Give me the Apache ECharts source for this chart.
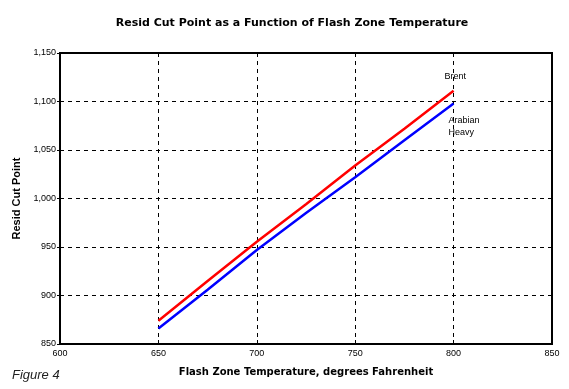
<!DOCTYPE html>
<html><head><meta charset="utf-8">
<script src="https://cdn.jsdelivr.net/npm/echarts@6/dist/echarts.min.js"></script>
<style>html,body{margin:0;padding:0;background:#fff}#c{width:569px;height:389px}</style>
</head><body><div id="c"></div>
<script>
var temps = [650, 675, 700, 725, 750, 775, 800];
var brent = [874, 915, 955.5, 994, 1034, 1072, 1111];
var arabianHeavy = [866, 906, 947, 985, 1022, 1060, 1098];
var seriesNames = ['Brent', 'Arabian Heavy'];
var titleText = 'Resid Cut Point as a Function of Flash Zone Temperature';
var xName = 'Flash Zone Temperature, degrees Fahrenheit';
var yName = 'Resid Cut Point';
var figLabel = 'Figure 4';

function pairs(xs, ys){ return xs.map(function(x,i){return [x, ys[i]];}); }
var chart = echarts.init(document.getElementById('c'));
var font = 'Liberation Sans, Arial, sans-serif';
var wide = 'DejaVu Sans, Verdana, sans-serif';
chart.setOption({
  animation: false,
  backgroundColor: '#fff',
  title: {text: titleText, left: 287, textAlign: 'center', top: 13,
    textStyle: {fontFamily: wide, fontSize: 11, fontWeight: 'bold', color: '#000'}},
  graphic: [{type: 'text', left: 12, top: 369,
    style: {text: figLabel, fontFamily: font, fontSize: 13, fontStyle: 'italic', fill: '#222'}}],
  grid: {left: 60, right: 17, top: 53, bottom: 45, show: true, borderColor: '#000', borderWidth: 2},
  xAxis: {type: 'value', min: 600, max: 850, interval: 50,
    name: xName, nameLocation: 'middle', nameGap: 23,
    nameTextStyle: {fontFamily: wide, fontSize: 10, fontWeight: 'bold', color: '#000'},
    axisLine: {lineStyle: {color: '#000', width: 2}},
    axisTick: {show: true, inside: true, length: 4, lineStyle: {color: '#000'}},
    axisLabel: {fontFamily: font, fontSize: 9, color: '#000', margin: 5},
    splitLine: {show: true, lineStyle: {color: '#000', type: [4, 4], width: 1}}},
  yAxis: {type: 'value', min: 850, max: 1150, interval: 50,
    name: yName, nameLocation: 'middle', nameGap: 31, nameRotate: 90,
    nameTextStyle: {fontFamily: font, fontSize: 11, fontWeight: 'bold', color: '#000'},
    axisLine: {lineStyle: {color: '#000', width: 2}},
    axisTick: {show: true, length: 3, lineStyle: {color: '#000'}},
    axisLabel: {fontFamily: font, fontSize: 9, color: '#000', margin: 4,
      formatter: function(v){ return v.toLocaleString('en-US'); }},
    splitLine: {show: true, lineStyle: {color: '#000', type: [4, 4], width: 1}}},
  series: [
    {name: seriesNames[0], type: 'line', data: pairs(temps, brent), symbol: 'none',
      lineStyle: {color: '#ff0000', width: 2.5}, itemStyle: {color: '#ff0000'},
      endLabel: {show: true, formatter: seriesNames[0], offset: [-17, -14],
        fontFamily: font, fontSize: 9, color: '#000'}},
    {name: seriesNames[1], type: 'line', data: pairs(temps, arabianHeavy), symbol: 'none',
      lineStyle: {color: '#0000ff', width: 2.5}, itemStyle: {color: '#0000ff'},
      endLabel: {show: true, formatter: 'Arabian\nHeavy', offset: [-13, 23], lineHeight: 12,
        fontFamily: font, fontSize: 9, color: '#000'}}
  ]
});
</script></body></html>
